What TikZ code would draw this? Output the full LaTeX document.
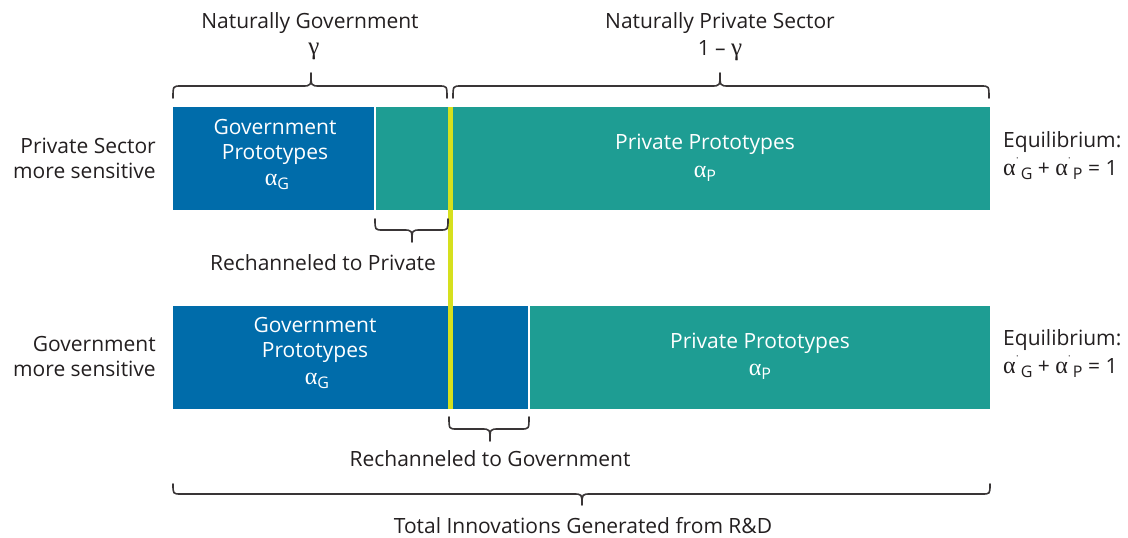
\documentclass[tikz,border=0pt]{standalone}
\usepackage{fontspec}
\setmainfont{Open Sans}
\newfontfamily\grk{Liberation Serif}
\definecolor{govblue}{RGB}{0,108,170}
\definecolor{privteal}{RGB}{30,157,147}
\definecolor{yel}{RGB}{214,224,30}
\definecolor{ink}{RGB}{35,31,32}
\newcommand{\mybrace}[6]{%
  \draw[bracestyle] (#1,#4) .. controls (#1,#5) .. ({#1+8},#5) -- ({#3-9},#5)
    .. controls (#3,#5) .. (#3,#6) .. controls (#3,#5) .. ({#3+9},#5)
    -- ({#2-8},#5) .. controls (#2,#5) .. (#2,#4);}
\newcommand{\alp}{{\grk\fontsize{24}{24}\selectfont α}}
\newcommand{\gam}{{\grk\fontsize{25}{25}\selectfont γ}}
\newcommand{\asub}[1]{\alp\raisebox{-0.35ex}{\fontsize{16}{16}\selectfont #1}}
\newcommand{\adot}[1]{\alp\raisebox{0.8ex}{\fontsize{12}{12}\selectfont ˙}\hspace{2pt}\raisebox{-0.35ex}{\fontsize{16}{16}\selectfont #1}}
\begin{document}
\begin{tikzpicture}[x=1pt,y=-1pt,
  bracestyle/.style={draw=ink!90,line width=1.6pt,line cap=round,line join=round},
  lbl/.style={text=ink,font=\fontsize{21}{25}\selectfont,inner sep=0pt,align=center},
  wlbl/.style={text=white,font=\fontsize{21}{25}\selectfont,inner sep=0pt,align=center}]
\useasboundingbox (0,0) rectangle (1128,538);
% bars
\fill[govblue] (173,107) rectangle (375,210);
\fill[privteal] (375,107) rectangle (990,210);
\fill[govblue] (173,306) rectangle (529,409);
\fill[privteal] (529,306) rectangle (990,409);
\draw[white,line width=2pt] (375,107) -- (375,210);
\draw[white,line width=2pt] (529,306) -- (529,409);
\fill[yel] (448,107) rectangle (453,409);
% braces
\mybrace{173}{447}{311}{98}{86}{73}
\mybrace{453}{989}{720}{98}{86}{73}
\mybrace{375}{448}{412}{219}{230}{242}
\mybrace{449}{529}{490}{417}{429}{441}
\mybrace{173}{990}{582}{484}{494}{505}
% top labels
\node[lbl] (ng) at (310,23) {Naturally Government};
\node[lbl] (gam) at (314,51) {\gam};
\node[lbl] (np) at (720,23) {Naturally Private Sector};
\node[lbl] (omg) at (720,51) {1 – \gam};
% left labels
\node[lbl,align=right,anchor=east] (ps) at (156,158) {Private Sector\\more sensitive};
\node[lbl,align=right,anchor=east] (gs) at (156,356) {Government\\more sensitive};
% bar texts
\node[wlbl] (gp1) at (275,142) {Government\\Prototypes};
\node[wlbl] (ag1) at (277,182) {\asub{G}};
\node[wlbl] (pp1) at (705,144) {Private Prototypes};
\node[wlbl] (ap1) at (705,174) {\asub{P}};
\node[wlbl] (gp2) at (315,340) {Government\\Prototypes};
\node[wlbl] (ag2) at (317,381) {\asub{G}};
\node[wlbl] (pp2) at (760,343) {Private Prototypes};
\node[wlbl] (ap2) at (760,372) {\asub{P}};
% equilibrium
\node[lbl,align=left,anchor=west] (eq1) at (1003,142) {Equilibrium:};
\node[lbl,anchor=west] (eq1b) at (1003,169) {\adot{G} + \adot{P} = 1};
\node[lbl,align=left,anchor=west] (eq2) at (1003,340) {Equilibrium:};
\node[lbl,anchor=west] (eq2b) at (1003,367) {\adot{G} + \adot{P} = 1};
% bottom texts
\node[lbl] (rp) at (323,263) {Rechanneled to Private};
\node[lbl] (rg) at (490,459) {Rechanneled to Government};
\node[lbl] (tot) at (583,526) {Total Innovations Generated from R\&D};
\end{tikzpicture}
\end{document}
